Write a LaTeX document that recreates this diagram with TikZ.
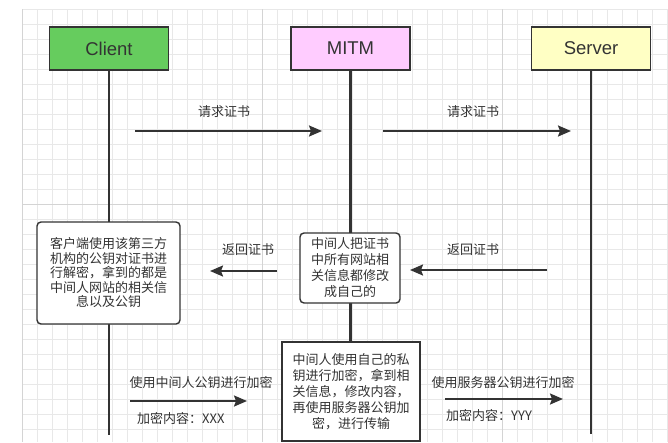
\documentclass[tikz,border=0pt]{standalone}
\usepackage{fontspec}
\setmainfont{Liberation Sans}
\newfontfamily\cjk{Noto Sans CJK SC}
\usetikzlibrary{arrows.meta}
\definecolor{ink}{HTML}{333333}
\definecolor{gridminor}{HTML}{E8E8E8}
\definecolor{gridmajor}{HTML}{D4D4D4}
\definecolor{clientfill}{HTML}{66CC5E}
\definecolor{mitmfill}{HTML}{FFCCFF}
\definecolor{serverfill}{HTML}{FFFFC4}
\tikzset{
  actor/.style={draw=ink, line width=1.8pt, minimum width=119pt, minimum height=43pt,
    inner sep=0pt, font=\fontsize{18.5pt}{20pt}\selectfont, text=ink},
  notebox/.style={draw=ink, line width=1.4pt, fill=white, inner sep=0pt, align=center,
    font=\cjk\fontsize{13pt}{14.5pt}\selectfont, text=ink},
  lifeline/.style={draw=ink, line width=2.8pt},
  msg/.style={draw=ink, line width=2pt, -{Stealth[length=13pt,width=11pt,inset=2pt]}},
  lbl/.style={font=\cjk\fontsize{13pt}{15pt}\selectfont, text=ink, inner sep=0pt},
}
\begin{document}
\begin{tikzpicture}[x=1pt,y=-1pt]
\useasboundingbox (0,0) rectangle (668,442);
\fill[white] (0,0) rectangle (668,442);
% grid
\foreach \i in {0,...,43} {
  \draw[gridminor, line width=0.8pt] ({22+15*\i},9) -- ({22+15*\i},442);
}
\foreach \j in {0,...,28} {
  \draw[gridminor, line width=0.8pt] (22,{9+15*\j}) -- (668,{9+15*\j});
}
\foreach \x in {22,262,502} {
  \draw[gridmajor, line width=0.8pt] (\x,9) -- (\x,442);
}
\draw[gridmajor, line width=0.8pt] (22,204) -- (668,204);

% actors
\node[actor, fill=clientfill] (client) at (109,48.5) {Client};
\node[actor, fill=mitmfill] (mitm) at (350.5,48.5) {MITM};
\node[actor, fill=serverfill] (server) at (591,48.5) {Server};

% lifeline ends
\coordinate (clientend) at (109,435);
\coordinate (serverend) at (591,434);

% notes (positions)
\coordinate (cboxpos) at (108.5,273);
\coordinate (mboxpos) at (350,268);
\coordinate (bboxpos) at (351,391.5);

% lifelines
\draw[lifeline] (client.south) -- (clientend);
\draw[lifeline] (server.south) -- (serverend);
\draw[lifeline] (mitm.south) -- (350.5,342);

% note boxes
\node[notebox, rounded corners=4pt, minimum width=143pt, minimum height=102pt] (cbox) at (cboxpos)
  {客户端使用该第三方\\机构的公钥对证书进\\行解密，拿到的都是\\中间人网站的相关信\\息以及公钥};
\node[notebox, rounded corners=4pt, minimum width=100pt, minimum height=70pt,
  font=\cjk\fontsize{13pt}{16pt}\selectfont] (mbox) at (mboxpos)
  {中间人把证书\\中所有网站相\\关信息都修改\\成自己的};
\node[notebox, minimum width=138pt, minimum height=99pt,
  font=\cjk\fontsize{13pt}{16pt}\selectfont] (bbox) at (bboxpos)
  {中间人使用自己的私\\钥进行加密，拿到相\\关信息，修改内容，\\再使用服务器公钥加\\密，进行传输};

% message endpoints
\coordinate (a1s) at (135,131); \coordinate (a1e) at (322,131);
\coordinate (a2s) at (383,131); \coordinate (a2e) at (571,131);
\coordinate (a3s) at (547,270); \coordinate (a3e) at (410,270);
\coordinate (a4s) at (277,271); \coordinate (a4e) at (210,271);
\coordinate (a5s) at (130,401); \coordinate (a5e) at (247,401);
\coordinate (a6s) at (445,399); \coordinate (a6e) at (563,399);

\draw[msg] (a1s) -- (a1e);
\draw[msg] (a2s) -- (a2e);
\draw[msg] (a3s) -- (a3e);
\draw[msg] (a4s) -- (a4e);
\draw[msg] (a5s) -- (a5e);
\draw[msg] (a6s) -- (a6e);

% labels
\node[lbl] (l1) at (224,112) {请求证书};
\node[lbl] (l2) at (473,112) {请求证书};
\node[lbl] (l3) at (473,250) {返回证书};
\node[lbl] (l4) at (248,250) {返回证书};
\node[lbl] (l5) at (201,383) {使用中间人公钥进行加密};
\node[lbl, anchor=west] (l5b) at (137,418) {加密内容：XXX};
\node[lbl] (l6) at (503,383) {使用服务器公钥进行加密};
\node[lbl, anchor=west] (l6b) at (446,415) {加密内容：YYY};
\end{tikzpicture}
\end{document}
